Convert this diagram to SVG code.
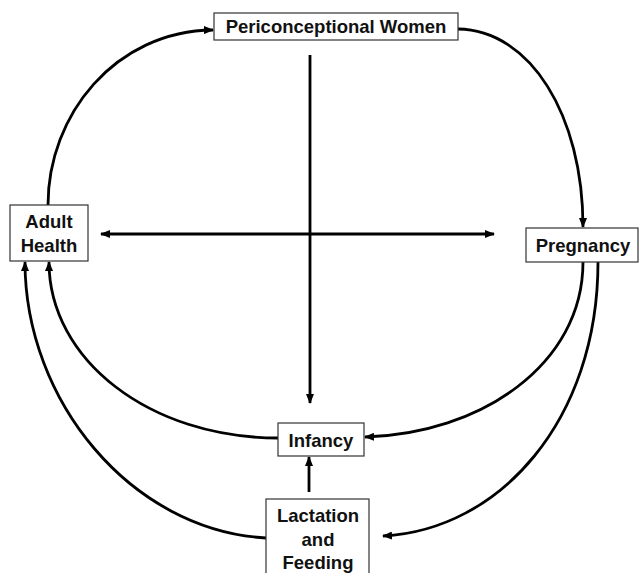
<svg xmlns="http://www.w3.org/2000/svg" width="639" height="573" viewBox="0 0 639 573">
<defs>
<marker id="ah" viewBox="0 0 10 8" refX="9" refY="4" markerWidth="10" markerHeight="8" markerUnits="userSpaceOnUse" orient="auto">
<path d="M0,0 L10,4 L0,8 Z" fill="#000"/>
</marker>
</defs>
<style>
.box{fill:#fff;stroke:#333;stroke-width:1.2}
.lbl{font-family:"Liberation Sans",Arial,sans-serif;font-weight:bold;font-size:18.5px;fill:#111;text-anchor:middle}
.ln{fill:none;stroke:#000;stroke-width:2.8;marker-end:url(#ah)}
</style>
<rect width="639" height="573" fill="#fff"/>
<g id="connectors">
<path class="ln" d="M310,55 L310,403"/>
<path class="ln" d="M310,234 L101,234"/>
<path class="ln" d="M310,234 L494,234"/>
<path class="ln" d="M309,492 L309,457"/>
<path class="ln" d="M48,205 C48,115 115,31 213,30"/>
<path class="ln" d="M458,29 C530,30 583,115 583,227"/>
<path class="ln" d="M583,262 C583,365 480,434 365,437"/>
<path class="ln" d="M598,262 C598,420 500,530 383,536"/>
<path class="ln" d="M278,438 C150,438 49,360 49,262"/>
<path class="ln" d="M266,538 C130,530 25,400 25,262"/>
</g>
<g id="periconceptional">
<rect class="box" x="214" y="13" width="244" height="27"/>
<text class="lbl" x="336" y="33">Periconceptional Women</text>
</g>
<g id="adult">
<rect class="box" x="10" y="205" width="78" height="56"/>
<text class="lbl" x="49" y="228">Adult</text>
<text class="lbl" x="49" y="252">Health</text>
</g>
<g id="pregnancy">
<rect class="box" x="526" y="228" width="112" height="34"/>
<text class="lbl" x="583" y="252">Pregnancy</text>
</g>
<g id="infancy">
<rect class="box" x="278" y="423" width="86" height="33"/>
<text class="lbl" x="321" y="447">Infancy</text>
</g>
<g id="lactation">
<rect class="box" x="266" y="499" width="103" height="80"/>
<text class="lbl" x="318" y="522">Lactation</text>
<text class="lbl" x="318" y="546">and</text>
<text class="lbl" x="318" y="569">Feeding</text>
</g>
</svg>
